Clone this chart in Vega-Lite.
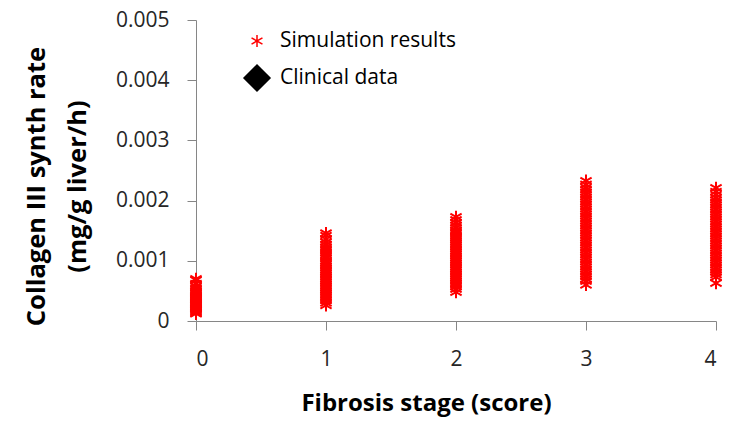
{
  "$schema": "https://vega.github.io/schema/vega-lite/v6.json",
  "width": 520,
  "height": 301,
  "autosize": "none",
  "padding": {"left": 196, "top": 20, "right": 13, "bottom": 101},
  "background": "white",
  "config": {
    "view": {"stroke": null},
    "font": "Open Sans"
  },
  "data": {
    "values": [
      {"stage": 0, "rate": 0.0007, "series": "Simulation results"},
      {"stage": 0, "rate": 0.00068, "series": "Simulation results"},
      {"stage": 0, "rate": 0.00062, "series": "Simulation results"},
      {"stage": 0, "rate": 0.00058, "series": "Simulation results"},
      {"stage": 0, "rate": 0.00055, "series": "Simulation results"},
      {"stage": 0, "rate": 0.00052, "series": "Simulation results"},
      {"stage": 0, "rate": 0.0005, "series": "Simulation results"},
      {"stage": 0, "rate": 0.00048, "series": "Simulation results"},
      {"stage": 0, "rate": 0.00046, "series": "Simulation results"},
      {"stage": 0, "rate": 0.00044, "series": "Simulation results"},
      {"stage": 0, "rate": 0.00042, "series": "Simulation results"},
      {"stage": 0, "rate": 0.0004, "series": "Simulation results"},
      {"stage": 0, "rate": 0.00038, "series": "Simulation results"},
      {"stage": 0, "rate": 0.00037, "series": "Simulation results"},
      {"stage": 0, "rate": 0.00035, "series": "Simulation results"},
      {"stage": 0, "rate": 0.00034, "series": "Simulation results"},
      {"stage": 0, "rate": 0.00032, "series": "Simulation results"},
      {"stage": 0, "rate": 0.0003, "series": "Simulation results"},
      {"stage": 0, "rate": 0.00029, "series": "Simulation results"},
      {"stage": 0, "rate": 0.00027, "series": "Simulation results"},
      {"stage": 0, "rate": 0.00026, "series": "Simulation results"},
      {"stage": 0, "rate": 0.00024, "series": "Simulation results"},
      {"stage": 0, "rate": 0.00022, "series": "Simulation results"},
      {"stage": 0, "rate": 0.0002, "series": "Simulation results"},
      {"stage": 0, "rate": 0.00019, "series": "Simulation results"},
      {"stage": 0, "rate": 0.00017, "series": "Simulation results"},
      {"stage": 0, "rate": 0.00015, "series": "Simulation results"},
      {"stage": 0, "rate": 0.00013, "series": "Simulation results"},
      {"stage": 0, "rate": 0.00012, "series": "Simulation results"},
      {"stage": 1, "rate": 0.00146, "series": "Simulation results"},
      {"stage": 1, "rate": 0.00142, "series": "Simulation results"},
      {"stage": 1, "rate": 0.00136, "series": "Simulation results"},
      {"stage": 1, "rate": 0.00131, "series": "Simulation results"},
      {"stage": 1, "rate": 0.00127, "series": "Simulation results"},
      {"stage": 1, "rate": 0.00123, "series": "Simulation results"},
      {"stage": 1, "rate": 0.0012, "series": "Simulation results"},
      {"stage": 1, "rate": 0.00117, "series": "Simulation results"},
      {"stage": 1, "rate": 0.00113, "series": "Simulation results"},
      {"stage": 1, "rate": 0.0011, "series": "Simulation results"},
      {"stage": 1, "rate": 0.00107, "series": "Simulation results"},
      {"stage": 1, "rate": 0.00104, "series": "Simulation results"},
      {"stage": 1, "rate": 0.001, "series": "Simulation results"},
      {"stage": 1, "rate": 0.00097, "series": "Simulation results"},
      {"stage": 1, "rate": 0.00094, "series": "Simulation results"},
      {"stage": 1, "rate": 0.00091, "series": "Simulation results"},
      {"stage": 1, "rate": 0.00088, "series": "Simulation results"},
      {"stage": 1, "rate": 0.00085, "series": "Simulation results"},
      {"stage": 1, "rate": 0.00082, "series": "Simulation results"},
      {"stage": 1, "rate": 0.00079, "series": "Simulation results"},
      {"stage": 1, "rate": 0.00076, "series": "Simulation results"},
      {"stage": 1, "rate": 0.00073, "series": "Simulation results"},
      {"stage": 1, "rate": 0.0007, "series": "Simulation results"},
      {"stage": 1, "rate": 0.00067, "series": "Simulation results"},
      {"stage": 1, "rate": 0.00064, "series": "Simulation results"},
      {"stage": 1, "rate": 0.00061, "series": "Simulation results"},
      {"stage": 1, "rate": 0.00058, "series": "Simulation results"},
      {"stage": 1, "rate": 0.00055, "series": "Simulation results"},
      {"stage": 1, "rate": 0.00052, "series": "Simulation results"},
      {"stage": 1, "rate": 0.00049, "series": "Simulation results"},
      {"stage": 1, "rate": 0.00046, "series": "Simulation results"},
      {"stage": 1, "rate": 0.00043, "series": "Simulation results"},
      {"stage": 1, "rate": 0.0004, "series": "Simulation results"},
      {"stage": 1, "rate": 0.00037, "series": "Simulation results"},
      {"stage": 1, "rate": 0.00034, "series": "Simulation results"},
      {"stage": 1, "rate": 0.0003, "series": "Simulation results"},
      {"stage": 1, "rate": 0.00026, "series": "Simulation results"},
      {"stage": 2, "rate": 0.00173, "series": "Simulation results"},
      {"stage": 2, "rate": 0.00168, "series": "Simulation results"},
      {"stage": 2, "rate": 0.00163, "series": "Simulation results"},
      {"stage": 2, "rate": 0.00159, "series": "Simulation results"},
      {"stage": 2, "rate": 0.00155, "series": "Simulation results"},
      {"stage": 2, "rate": 0.00151, "series": "Simulation results"},
      {"stage": 2, "rate": 0.00148, "series": "Simulation results"},
      {"stage": 2, "rate": 0.00145, "series": "Simulation results"},
      {"stage": 2, "rate": 0.00141, "series": "Simulation results"},
      {"stage": 2, "rate": 0.00138, "series": "Simulation results"},
      {"stage": 2, "rate": 0.00135, "series": "Simulation results"},
      {"stage": 2, "rate": 0.00132, "series": "Simulation results"},
      {"stage": 2, "rate": 0.00129, "series": "Simulation results"},
      {"stage": 2, "rate": 0.00126, "series": "Simulation results"},
      {"stage": 2, "rate": 0.00123, "series": "Simulation results"},
      {"stage": 2, "rate": 0.0012, "series": "Simulation results"},
      {"stage": 2, "rate": 0.00117, "series": "Simulation results"},
      {"stage": 2, "rate": 0.00114, "series": "Simulation results"},
      {"stage": 2, "rate": 0.00111, "series": "Simulation results"},
      {"stage": 2, "rate": 0.00108, "series": "Simulation results"},
      {"stage": 2, "rate": 0.00105, "series": "Simulation results"},
      {"stage": 2, "rate": 0.00102, "series": "Simulation results"},
      {"stage": 2, "rate": 0.00099, "series": "Simulation results"},
      {"stage": 2, "rate": 0.00096, "series": "Simulation results"},
      {"stage": 2, "rate": 0.00093, "series": "Simulation results"},
      {"stage": 2, "rate": 0.0009, "series": "Simulation results"},
      {"stage": 2, "rate": 0.00087, "series": "Simulation results"},
      {"stage": 2, "rate": 0.00084, "series": "Simulation results"},
      {"stage": 2, "rate": 0.00081, "series": "Simulation results"},
      {"stage": 2, "rate": 0.00078, "series": "Simulation results"},
      {"stage": 2, "rate": 0.00075, "series": "Simulation results"},
      {"stage": 2, "rate": 0.00072, "series": "Simulation results"},
      {"stage": 2, "rate": 0.00069, "series": "Simulation results"},
      {"stage": 2, "rate": 0.00066, "series": "Simulation results"},
      {"stage": 2, "rate": 0.00063, "series": "Simulation results"},
      {"stage": 2, "rate": 0.0006, "series": "Simulation results"},
      {"stage": 2, "rate": 0.00057, "series": "Simulation results"},
      {"stage": 2, "rate": 0.00053, "series": "Simulation results"},
      {"stage": 2, "rate": 0.00048, "series": "Simulation results"},
      {"stage": 3, "rate": 0.00233, "series": "Simulation results"},
      {"stage": 3, "rate": 0.00227, "series": "Simulation results"},
      {"stage": 3, "rate": 0.00222, "series": "Simulation results"},
      {"stage": 3, "rate": 0.00218, "series": "Simulation results"},
      {"stage": 3, "rate": 0.00214, "series": "Simulation results"},
      {"stage": 3, "rate": 0.0021, "series": "Simulation results"},
      {"stage": 3, "rate": 0.00206, "series": "Simulation results"},
      {"stage": 3, "rate": 0.00202, "series": "Simulation results"},
      {"stage": 3, "rate": 0.00198, "series": "Simulation results"},
      {"stage": 3, "rate": 0.00194, "series": "Simulation results"},
      {"stage": 3, "rate": 0.0019, "series": "Simulation results"},
      {"stage": 3, "rate": 0.00186, "series": "Simulation results"},
      {"stage": 3, "rate": 0.00182, "series": "Simulation results"},
      {"stage": 3, "rate": 0.00178, "series": "Simulation results"},
      {"stage": 3, "rate": 0.00174, "series": "Simulation results"},
      {"stage": 3, "rate": 0.0017, "series": "Simulation results"},
      {"stage": 3, "rate": 0.00166, "series": "Simulation results"},
      {"stage": 3, "rate": 0.00162, "series": "Simulation results"},
      {"stage": 3, "rate": 0.00158, "series": "Simulation results"},
      {"stage": 3, "rate": 0.00154, "series": "Simulation results"},
      {"stage": 3, "rate": 0.0015, "series": "Simulation results"},
      {"stage": 3, "rate": 0.00146, "series": "Simulation results"},
      {"stage": 3, "rate": 0.00142, "series": "Simulation results"},
      {"stage": 3, "rate": 0.00138, "series": "Simulation results"},
      {"stage": 3, "rate": 0.00134, "series": "Simulation results"},
      {"stage": 3, "rate": 0.0013, "series": "Simulation results"},
      {"stage": 3, "rate": 0.00126, "series": "Simulation results"},
      {"stage": 3, "rate": 0.00122, "series": "Simulation results"},
      {"stage": 3, "rate": 0.00118, "series": "Simulation results"},
      {"stage": 3, "rate": 0.00114, "series": "Simulation results"},
      {"stage": 3, "rate": 0.0011, "series": "Simulation results"},
      {"stage": 3, "rate": 0.00106, "series": "Simulation results"},
      {"stage": 3, "rate": 0.00102, "series": "Simulation results"},
      {"stage": 3, "rate": 0.00098, "series": "Simulation results"},
      {"stage": 3, "rate": 0.00094, "series": "Simulation results"},
      {"stage": 3, "rate": 0.0009, "series": "Simulation results"},
      {"stage": 3, "rate": 0.00086, "series": "Simulation results"},
      {"stage": 3, "rate": 0.00082, "series": "Simulation results"},
      {"stage": 3, "rate": 0.00078, "series": "Simulation results"},
      {"stage": 3, "rate": 0.00074, "series": "Simulation results"},
      {"stage": 3, "rate": 0.0007, "series": "Simulation results"},
      {"stage": 3, "rate": 0.00066, "series": "Simulation results"},
      {"stage": 3, "rate": 0.0006, "series": "Simulation results"},
      {"stage": 4, "rate": 0.00221, "series": "Simulation results"},
      {"stage": 4, "rate": 0.00215, "series": "Simulation results"},
      {"stage": 4, "rate": 0.0021, "series": "Simulation results"},
      {"stage": 4, "rate": 0.00205, "series": "Simulation results"},
      {"stage": 4, "rate": 0.00201, "series": "Simulation results"},
      {"stage": 4, "rate": 0.00197, "series": "Simulation results"},
      {"stage": 4, "rate": 0.00193, "series": "Simulation results"},
      {"stage": 4, "rate": 0.00189, "series": "Simulation results"},
      {"stage": 4, "rate": 0.00185, "series": "Simulation results"},
      {"stage": 4, "rate": 0.00181, "series": "Simulation results"},
      {"stage": 4, "rate": 0.00177, "series": "Simulation results"},
      {"stage": 4, "rate": 0.00173, "series": "Simulation results"},
      {"stage": 4, "rate": 0.00169, "series": "Simulation results"},
      {"stage": 4, "rate": 0.00165, "series": "Simulation results"},
      {"stage": 4, "rate": 0.00161, "series": "Simulation results"},
      {"stage": 4, "rate": 0.00157, "series": "Simulation results"},
      {"stage": 4, "rate": 0.00153, "series": "Simulation results"},
      {"stage": 4, "rate": 0.00149, "series": "Simulation results"},
      {"stage": 4, "rate": 0.00145, "series": "Simulation results"},
      {"stage": 4, "rate": 0.00141, "series": "Simulation results"},
      {"stage": 4, "rate": 0.00137, "series": "Simulation results"},
      {"stage": 4, "rate": 0.00133, "series": "Simulation results"},
      {"stage": 4, "rate": 0.00129, "series": "Simulation results"},
      {"stage": 4, "rate": 0.00125, "series": "Simulation results"},
      {"stage": 4, "rate": 0.00121, "series": "Simulation results"},
      {"stage": 4, "rate": 0.00117, "series": "Simulation results"},
      {"stage": 4, "rate": 0.00113, "series": "Simulation results"},
      {"stage": 4, "rate": 0.00109, "series": "Simulation results"},
      {"stage": 4, "rate": 0.00105, "series": "Simulation results"},
      {"stage": 4, "rate": 0.00101, "series": "Simulation results"},
      {"stage": 4, "rate": 0.00097, "series": "Simulation results"},
      {"stage": 4, "rate": 0.00093, "series": "Simulation results"},
      {"stage": 4, "rate": 0.00089, "series": "Simulation results"},
      {"stage": 4, "rate": 0.00085, "series": "Simulation results"},
      {"stage": 4, "rate": 0.00081, "series": "Simulation results"},
      {"stage": 4, "rate": 0.00077, "series": "Simulation results"},
      {"stage": 4, "rate": 0.00073, "series": "Simulation results"},
      {"stage": 4, "rate": 0.00063, "series": "Simulation results"}
    ]
  },
  "mark": {"type": "point", "filled": true, "size": 720, "strokeWidth": 2, "opacity": 1},
  "encoding": {
    "x": {
      "field": "stage",
      "type": "quantitative",
      "scale": {"domain": [0, 4], "nice": false},
      "axis": {
        "values": [0, 1, 2, 3, 4],
        "format": "d",
        "grid": false,
        "domainColor": "#868686",
        "tickColor": "#868686",
        "tickSize": 9,
        "labelFont": "Open Sans",
        "labelFontSize": 21,
        "labelColor": "#262626",
        "labelPadding": 18,
        "title": "Fibrosis stage (score)",
        "titleFont": "Open Sans",
        "titleFontSize": 24,
        "titleFontWeight": "bold",
        "titleColor": "#000000",
        "titleX": 230,
        "titleY": 70
      }
    },
    "y": {
      "field": "rate",
      "type": "quantitative",
      "scale": {"domain": [0, 0.005], "nice": false},
      "axis": {
        "values": [0, 0.001, 0.002, 0.003, 0.004, 0.005],
        "labelExpr": "datum.value == 0 ? '0' : format(datum.value, '.3f')",
        "grid": false,
        "domainColor": "#868686",
        "tickColor": "#868686",
        "tickSize": 9,
        "labelFont": "Open Sans",
        "labelFontSize": 21,
        "labelColor": "#262626",
        "labelPadding": 18,
        "title": ["Collagen  III synth rate", "(mg/g liver/h)"],
        "titleFont": "Open Sans",
        "titleFontSize": 25.5,
        "titleFontWeight": "bold",
        "titleColor": "#000000",
        "titleLineHeight": 41,
        "titleX": -147,
        "titleY": 166
      }
    },
    "shape": {
      "field": "series",
      "type": "nominal",
      "scale": {
        "domain": ["Simulation results", "Clinical data"],
        "range": ["M0,-0.46L0,0.46M-0.42,-0.24L0.42,0.24M-0.42,0.24L0.42,-0.24", "M-1,0L0,-1L1,0L0,1Z"]
      },
      "legend": {
        "title": null,
        "orient": "none",
        "legendX": 47,
        "legendY": 7,
        "padding": 0,
        "symbolSize": 676,
        "symbolStrokeWidth": 1.5,
        "labelFont": "Open Sans",
        "labelFontSize": 21,
        "labelColor": "#000000",
        "labelLimit": 400,
        "labelOffset": 9,
        "rowPadding": 11
      }
    },
    "fill": {
      "field": "series",
      "type": "nominal",
      "scale": {"domain": ["Simulation results", "Clinical data"], "range": ["#ff0000", "#000000"]},
      "legend": {
        "title": null,
        "orient": "none",
        "legendX": 47,
        "legendY": 7,
        "padding": 0,
        "symbolSize": 676,
        "symbolStrokeWidth": 1.5,
        "labelFont": "Open Sans",
        "labelFontSize": 21,
        "labelColor": "#000000",
        "labelLimit": 400,
        "labelOffset": 9,
        "rowPadding": 11
      }
    },
    "stroke": {
      "field": "series",
      "type": "nominal",
      "scale": {"domain": ["Simulation results", "Clinical data"], "range": ["#ff0000", "#000000"]},
      "legend": {
        "title": null,
        "orient": "none",
        "legendX": 47,
        "legendY": 7,
        "padding": 0,
        "symbolSize": 676,
        "symbolStrokeWidth": 1.5,
        "labelFont": "Open Sans",
        "labelFontSize": 21,
        "labelColor": "#000000",
        "labelLimit": 400,
        "labelOffset": 9,
        "rowPadding": 11
      }
    }
  }
}
